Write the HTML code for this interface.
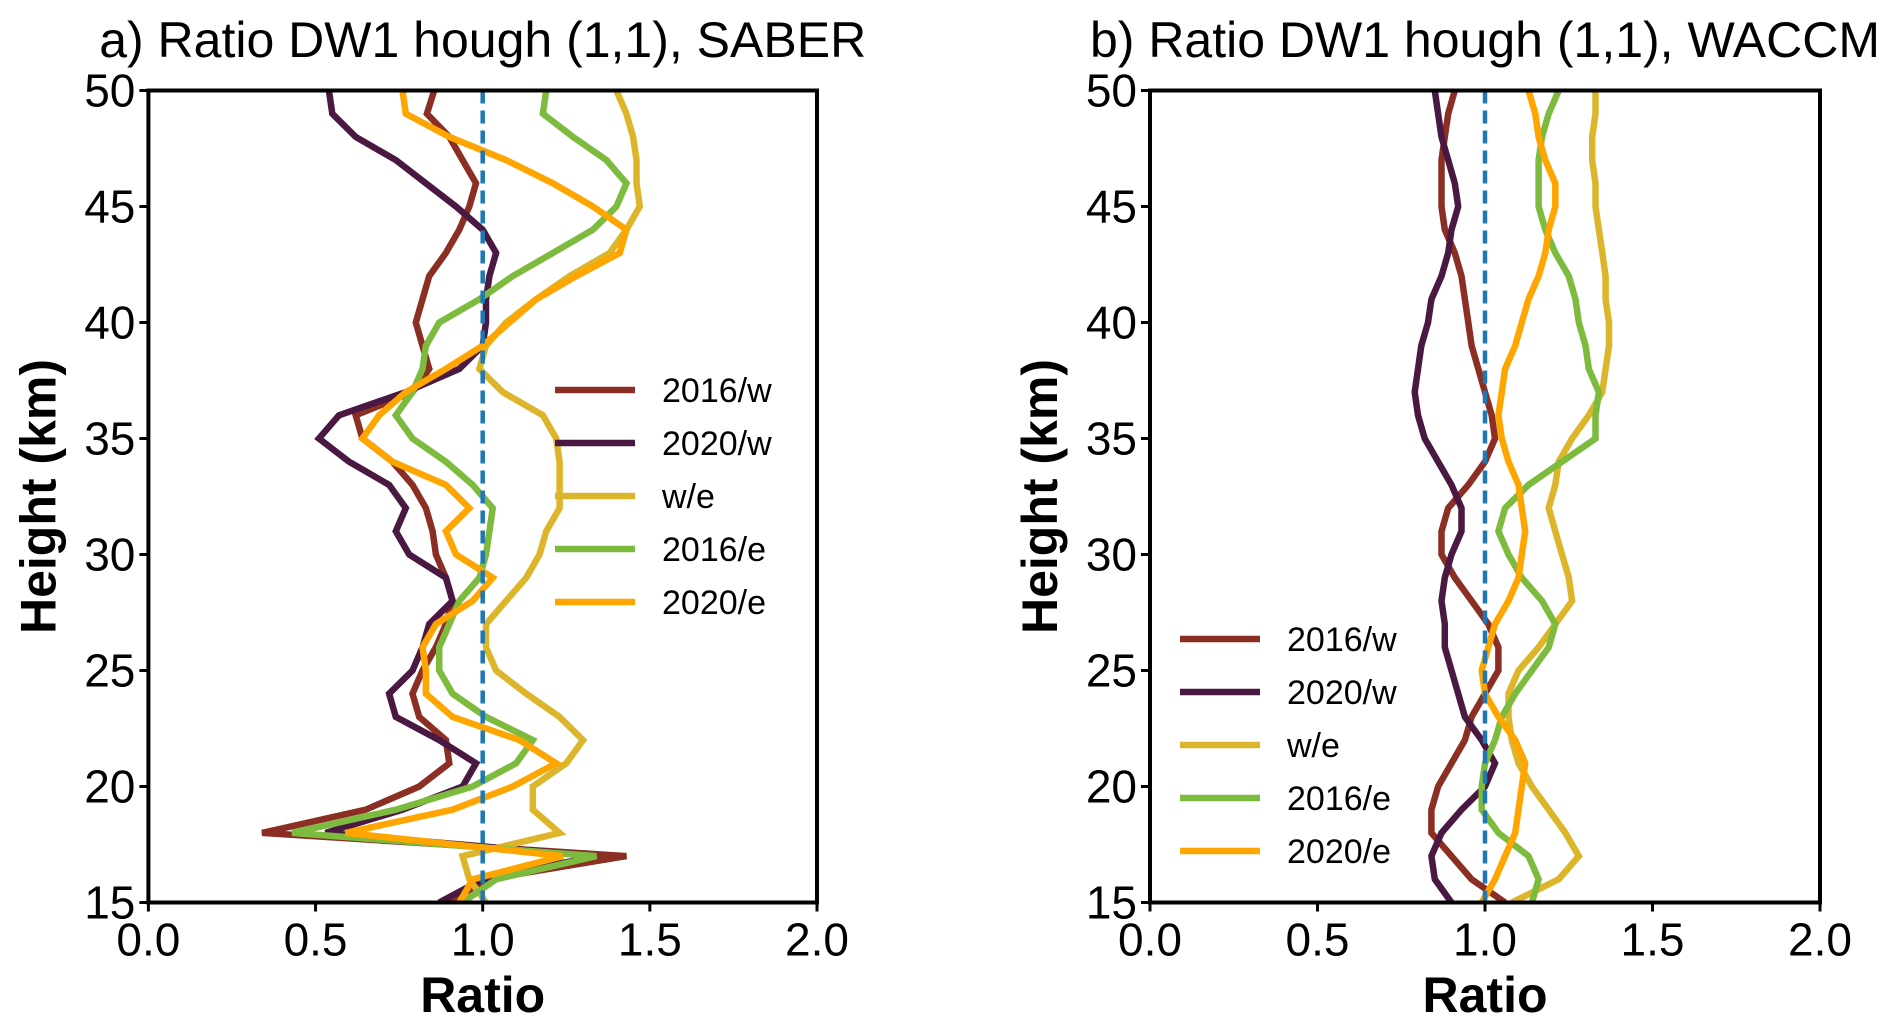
<!DOCTYPE html>
<html><head><meta charset="utf-8"><style>
html,body{margin:0;padding:0;background:#fff;}
svg{display:block;font-family:"Liberation Sans",sans-serif;}
</style></head><body>
<svg id="fig" width="1892" height="1033" viewBox="0 0 1892 1033"></svg>
<script>
const heights = [50,49,48,47,46,45,44,43,42,41,40,39,38,37,36,35,34,33,32,31,30,29,28,27,26,25,24,23,22,21,20,19,18,17,16,15];
const seriesNames = ["2016/w","2020/w","w/e","2016/e","2020/e"];
const seriesColors = ["#8B2E23","#4A1942","#DDB52A","#7DBB3E","#FFA500"];
const xTicks = [0.0,0.5,1.0,1.5,2.0];
const yTicks = [15,20,25,30,35,40,45,50];
const saber2016w = [.855,.833,.90,.94,.98,.96,.93,.89,.84,.82,.80,.82,.84,.79,.62,.64,.73,.79,.83,.85,.86,.89,.91,.89,.86,.82,.79,.81,.89,.90,.81,.65,.34,1.43,1.01,.90];
const saber2020w = [.54,.55,.62,.74,.83,.92,1.0,1.04,1.02,1.01,1.01,1.0,.93,.77,.57,.51,.60,.72,.77,.74,.78,.89,.91,.84,.82,.79,.72,.74,.87,.98,.94,.76,.53,1.34,1.0,.87];
const saberWE = [1.40,1.43,1.45,1.46,1.46,1.47,1.43,1.38,1.26,1.16,1.07,1.01,.99,1.06,1.18,1.22,1.23,1.23,1.23,1.19,1.17,1.13,1.07,1.01,1.01,1.04,1.13,1.23,1.30,1.25,1.15,1.15,1.23,.94,.96,1.01];
const saber2016e = [1.19,1.18,1.27,1.37,1.43,1.40,1.33,1.21,1.09,.99,.87,.83,.82,.79,.74,.79,.89,.97,1.03,1.02,1.01,.99,.93,.90,.87,.87,.91,1.01,1.15,1.10,.97,.74,.43,1.34,1.04,.94];
const saber2020e = [.76,.77,.90,1.07,1.21,1.33,1.43,1.41,1.28,1.16,1.08,1.0,.89,.77,.69,.64,.73,.89,.96,.89,.92,1.03,.97,.86,.82,.83,.83,.91,1.11,1.22,1.09,.91,.59,1.24,.97,.93];
const waccm2016w = [.91,.89,.88,.87,.87,.87,.88,.91,.93,.94,.95,.96,.98,1.0,1.02,1.03,1.0,.95,.89,.87,.87,.91,.96,1.01,1.04,1.04,1.0,.96,.94,.90,.86,.84,.84,.90,.96,1.06];
const waccm2020w = [.85,.86,.87,.89,.91,.92,.90,.89,.87,.84,.83,.81,.80,.79,.80,.82,.86,.90,.93,.93,.90,.88,.87,.88,.88,.90,.92,.94,.99,1.03,1.0,.93,.87,.84,.85,.90];
const waccmWE = [1.33,1.33,1.32,1.32,1.33,1.33,1.34,1.35,1.36,1.36,1.37,1.37,1.36,1.35,1.31,1.26,1.22,1.21,1.19,1.21,1.23,1.25,1.26,1.21,1.16,1.10,1.07,1.07,1.08,1.10,1.14,1.19,1.24,1.28,1.22,1.08];
const waccm2016e = [1.22,1.19,1.17,1.16,1.16,1.16,1.18,1.21,1.25,1.27,1.28,1.30,1.31,1.34,1.33,1.33,1.23,1.13,1.06,1.04,1.07,1.11,1.17,1.21,1.19,1.14,1.09,1.05,1.03,1.0,.99,.99,1.04,1.13,1.16,1.14];
const waccm2020e = [1.13,1.15,1.16,1.18,1.21,1.21,1.19,1.18,1.16,1.13,1.11,1.09,1.06,1.05,1.04,1.05,1.07,1.10,1.11,1.12,1.11,1.10,1.07,1.03,1.01,.99,1.0,1.04,1.09,1.12,1.11,1.10,1.09,1.06,1.03,.99];

const NS="http://www.w3.org/2000/svg";
const svg=document.getElementById('fig');
function mk(tag,attrs,parent){const e=document.createElementNS(NS,tag);for(const k in attrs)e.setAttribute(k,attrs[k]);(parent||svg).appendChild(e);return e;}

function panel(id,x0,x1,title,data,legX,legY){
  const y0=90.5,y1=902.5;
  const g=mk('g',{});
  
  
  const sx=v=>x0+(v-0)/(2-0)*(x1-x0);
  const sy=h=>y1-(h-15)/(50-15)*(y1-y0);
  const clip=mk('clipPath',{id:id+'clip'},g);
  mk('rect',{x:x0,y:y0,width:x1-x0,height:y1-y0},clip);
  const lg=mk('g',{'clip-path':'url(#'+id+'clip)'},g);
  data.forEach((arr,i)=>{
    const pts=arr.map((v,j)=>sx(v).toFixed(1)+','+sy(heights[j]).toFixed(1)).join(' ');
    const pl=mk('polyline',{points:pts,fill:'none',stroke:seriesColors[i],'stroke-width':6.5,'stroke-linejoin':'miter'},lg);
    
    
  });
  const ref=mk('line',{x1:sx(1),x2:sx(1),y1:y0,y2:y1,stroke:'#1f77b4','stroke-width':4.5,'stroke-dasharray':'13,7'},g);
  
  
  const fr=mk('rect',{x:x0,y:y0,width:x1-x0,height:y1-y0,fill:'none',stroke:'#000','stroke-width':4},g);
  
  
  xTicks.forEach(t=>{
    mk('line',{x1:sx(t),x2:sx(t),y1:y1,y2:y1+9,stroke:'#000','stroke-width':3},g);
    const tx=mk('text',{x:sx(t),y:y1+53,'font-size':46,'text-anchor':'middle'},g);
    tx.textContent=t.toFixed(1);
    
    
  });
  yTicks.forEach(t=>{
    mk('line',{x1:x0-9,x2:x0,y1:sy(t),y2:sy(t),stroke:'#000','stroke-width':3},g);
    const tx=mk('text',{x:x0-13,y:sy(t)+16,'font-size':46,'text-anchor':'end'},g);
    tx.textContent=t;
    
    
  });
  const tt=mk('text',{x:(x0+x1)/2,y:57,'font-size':50,'text-anchor':'middle'},g);
  tt.textContent=title;
  
  
  const xl=mk('text',{x:(x0+x1)/2,y:1012,'font-size':50,'font-weight':'bold','text-anchor':'middle'},g);
  xl.textContent='Ratio';
  
  
  const yl=mk('text',{x:0,y:0,'font-size':50,'font-weight':'bold','text-anchor':'middle',transform:'translate('+(x0-93)+','+((y0+y1)/2)+') rotate(-90)'},g);
  yl.textContent='Height (km)';
  
  
  const leg=mk('g',{},g);
  
  
  seriesNames.forEach((n,i)=>{
    const yy=legY+i*53;
    mk('line',{x1:legX,x2:legX+80,y1:yy,y2:yy,stroke:seriesColors[i],'stroke-width':6.5},leg);
    const t=mk('text',{x:legX+107,y:yy+12,'font-size':34},leg);
    t.textContent=n;
    
    
  });
}
panel('saber',148.4,817,'a) Ratio DW1 hough (1,1), SABER',[saber2016w,saber2020w,saberWE,saber2016e,saber2020e],555,390);
panel('waccm',1150,1820,'b) Ratio DW1 hough (1,1), WACCM',[waccm2016w,waccm2020w,waccmWE,waccm2016e,waccm2020e],1180,639);
</script>
</body></html>
